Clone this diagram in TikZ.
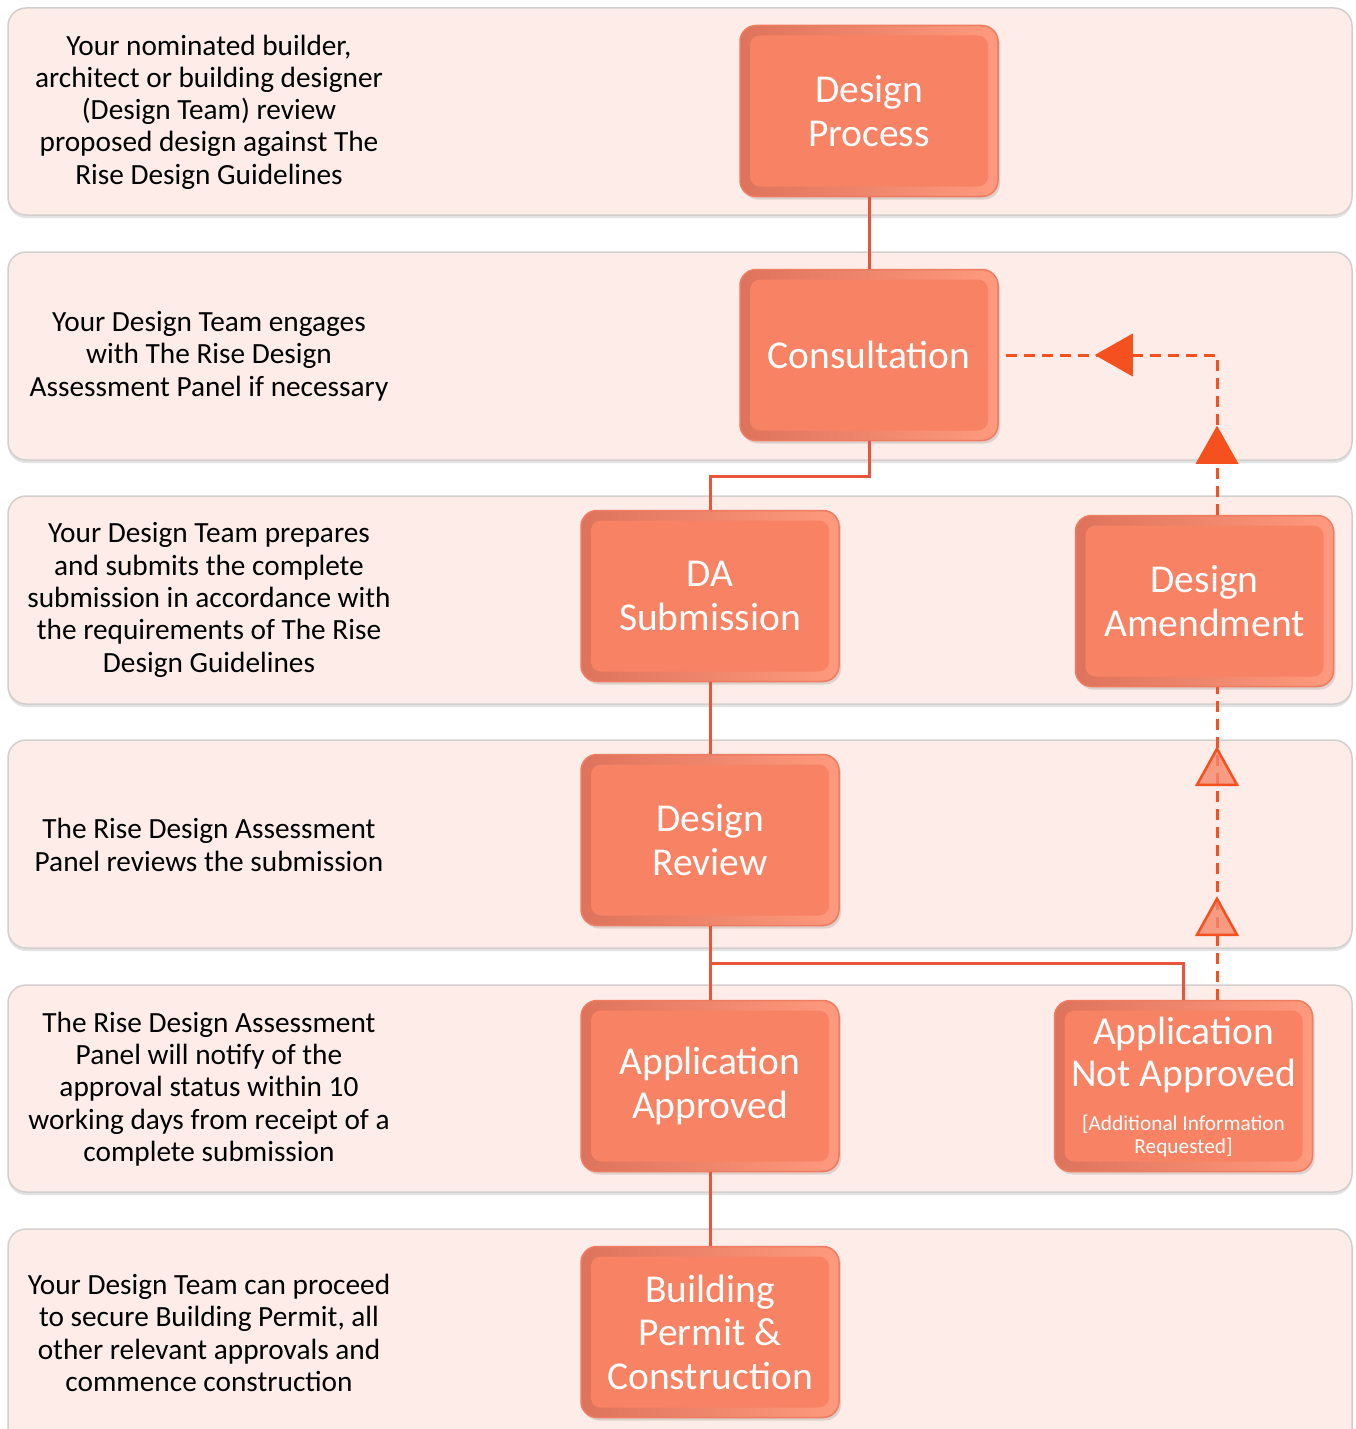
\documentclass[tikz,border=0pt]{standalone}
\usepackage{fontspec}
\setmainfont{Carlito}
\usetikzlibrary{shadows,decorations.markings,calc}
\definecolor{bandfill}{HTML}{FDECE7}
\definecolor{bandline}{HTML}{D3CFCD}
\definecolor{boxfill}{HTML}{F88264}
\definecolor{boxedge}{HTML}{EE7C60}
\definecolor{boxdark}{HTML}{DE735C}
\definecolor{boxlight}{HTML}{FF9A7E}
\definecolor{conncol}{HTML}{E8553A}
\definecolor{dashcol}{HTML}{F4511E}
\definecolor{hollowcol}{HTML}{F6876A}
\newcommand{\mytrihollow}{\filldraw[solid, draw=dashcol, fill=hollowcol, fill opacity=0.8, line width=2.5pt, line join=miter] (0pt,0pt) -- (-36pt,20pt) -- (-36pt,-20pt) -- cycle;}
\newcommand{\mytrifull}{\fill[dashcol] (0pt,0pt) -- (-38pt,21.5pt) -- (-38pt,-21.5pt) -- cycle;}
\tikzset{
  band/.style={draw=bandline, line width=1.5pt, fill=bandfill, rounded corners=18pt,
    drop shadow={shadow xshift=0pt, shadow yshift=-3pt, opacity=0.22}},
  procbox/.style={rectangle, rounded corners=16pt, minimum width=258pt, minimum height=171pt,
    inner sep=0pt, draw=boxedge, line width=1.5pt, left color=boxdark, right color=boxlight,
    drop shadow={shadow xshift=2pt, shadow yshift=-3pt, opacity=0.25},
    path picture={\fill[boxfill, rounded corners=10pt]
      ([shift={(10pt,10pt)}]path picture bounding box.south west) rectangle
      ([shift={(-10pt,-10pt)}]path picture bounding box.north east);},
    text=white, font=\fontsize{39.5}{43.5}\selectfont, align=center},
  boxtext/.style={text=white, font=\fontsize{39.5}{42.5}\selectfont, align=center, inner sep=0pt},
  smalltext/.style={text=white, font=\fontsize{21.3}{23}\selectfont, align=center, inner sep=0pt},
  desc/.style={align=center, font=\fontsize{29.3}{32.3}\selectfont, text=black, inner sep=0pt},
  conn/.style={draw=conncol, line width=3pt},
  dashline/.style={draw=dashcol, line width=3pt, dash pattern=on 11pt off 7pt}
}
\begin{document}
\begin{tikzpicture}[x=1pt,y=-1pt]
\useasboundingbox (0,0) rectangle (1355,1429);
\fill[white] (0,0) rectangle (1355,1429);
% bands
\path[band] (8,8) rectangle (1352,215);
\path[band] (8,252) rectangle (1352,460);
\path[band] (8,496) rectangle (1352,704);
\path[band] (8,740) rectangle (1352,948);
\path[band] (8,985) rectangle (1352,1192);
\path[band] (8,1229) rectangle (1352,1470);
% descriptions
\node[desc] (t1) at (209,112) {Your nominated builder,\\architect or building designer\\(Design Team) review\\proposed design against The\\Rise Design Guidelines};
\node[desc] (t2) at (209,356) {Your Design Team engages\\with The Rise Design\\Assessment Panel if necessary};
\node[desc] (t3) at (209,600) {Your Design Team prepares\\and submits the complete\\submission in accordance with\\the requirements of The Rise\\Design Guidelines};
\node[desc] (t4) at (209,845) {The Rise Design Assessment\\Panel reviews the submission};
\node[desc] (t5) at (209,1089) {The Rise Design Assessment\\Panel will notify of the\\approval status within 10\\working days from receipt of a\\complete submission};
\node[desc] (t6) at (209,1333) {Your Design Team can proceed\\to secure Building Permit, all\\other relevant approvals and\\commence construction};
% boxes
\node[procbox] (dp) at (869,111) {Design\\Process};
\node[procbox] (cons) at (869,355) {Consultation};
\node[procbox] (da) at (710,596) {DA\\Submission};
\node[procbox] (amend) at (1204.5,601) {Design\\Amendment};
\node[procbox] (rev) at (710,840) {Design\\Review};
\node[procbox] (app) at (710,1086) {Application\\Approved};
\node[procbox] (nap) at (1183.5,1086) {};
\node[boxtext] (napt) at (1183.5,1055) {Application\\Not Approved};
\node[smalltext] (naps) at (1183.5,1136) {[Additional Information\\Requested]};
\node[procbox] (bp) at (710,1332) {Building\\Permit \&\\Construction};
% solid connectors
\draw[conn] (dp.south) -- (cons.north);
\draw[conn] (cons.south) -- ++(0,35) -| (da.north);
\draw[conn] (da.south) -- (rev.north);
\draw[conn] (rev.south) -- (app.north);
\coordinate (split) at ($(rev.south)!0.5!(app.north)$);
\draw[conn] (split) -| (nap.north);
\draw[conn] (app.south) -- (bp.north);
% dashed feedback
\coordinate (dx) at (1217,0);
\draw[dashline, postaction={decorate, decoration={markings,
    mark=at position 101pt with {\mytrihollow},
    mark=at position 251pt with {\mytrihollow}}}]
  (nap.north -| dx) -- (amend.south -| dx);
\draw[dashline, postaction={decorate, decoration={markings,
    mark=at position 89pt with {\mytrifull},
    mark=at position 282pt with {\mytrifull}}}]
  (amend.north -| dx) |- (cons.east);
\end{tikzpicture}
\end{document}
